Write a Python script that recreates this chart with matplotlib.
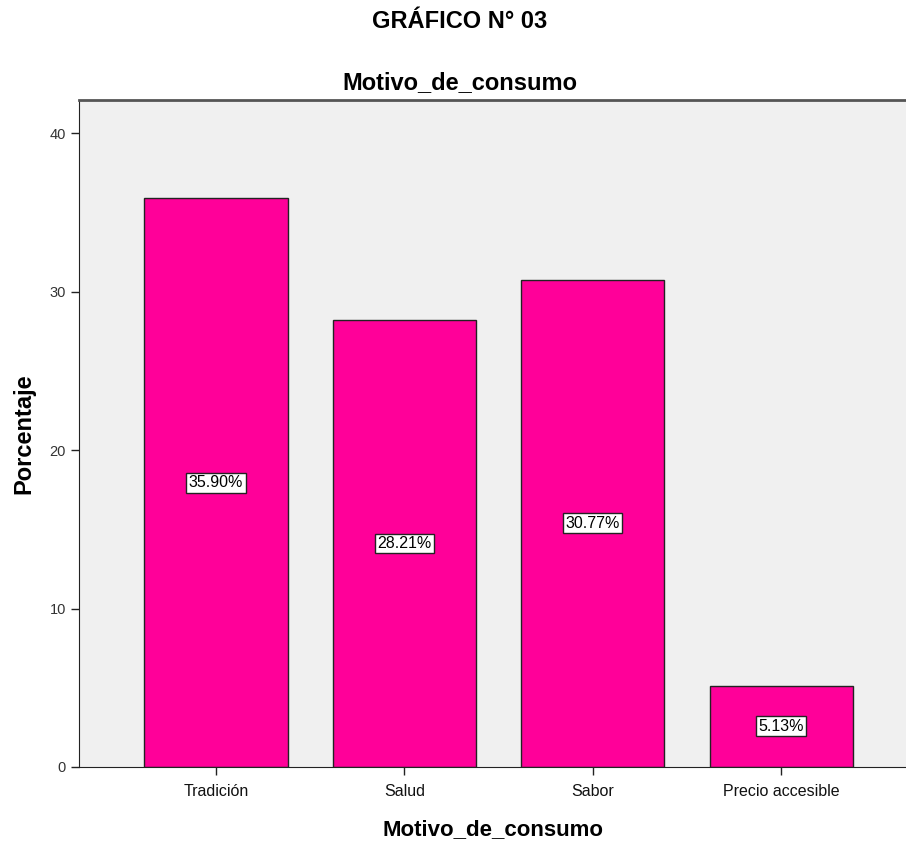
import matplotlib
matplotlib.use('Agg')
from matplotlib import pyplot as plt

categorias = ['Tradición', 'Salud', 'Sabor', 'Precio accesible']
porcentajes = [35.90, 28.21, 30.77, 5.13]
etiquetas = ['35.90%', '28.21%', '30.77%', '5.13%']
yticks = [0, 10, 20, 30, 40]

plt.rcParams['font.family'] = ['Liberation Sans', 'DejaVu Sans']

fig = plt.figure(figsize=(9.06, 8.44), dpi=100)
ax = fig.add_axes([79/906, 77/844, 1 - 79/906, 667/844])
ax.set_facecolor('#f0f0f0')

x = range(len(categorias))
ax.bar(x, porcentajes, width=0.76, color='#ff0099', edgecolor='#222222', linewidth=1)

for i, v in enumerate(porcentajes):
    ax.text(i, v/2, etiquetas[i], ha='center', va='center', fontsize=11.5,
            bbox=dict(boxstyle='square,pad=0.15', facecolor='white', edgecolor='#222222', linewidth=1))

ax.set_xlim(-0.727, 3.663)
ax.set_ylim(0, 42.1)
ax.set_xticks(list(x))
ax.set_xticklabels(categorias, fontsize=11.5)
ax.set_yticks(yticks)
ax.tick_params(axis='y', labelsize=10.5, length=6, width=1, colors='#222222', labelcolor='#333333')
ax.tick_params(axis='x', length=6, width=1, colors='#222222', labelcolor='#111111', pad=6)

ax.spines['right'].set_visible(False)
ax.spines['left'].set_color('#222222')
ax.spines['bottom'].set_color('#222222')
ax.spines['top'].set_color('#555555')
ax.spines['top'].set_linewidth(2)

ax.set_xlabel('Motivo_de_consumo', fontsize=16, fontweight='bold', labelpad=15)
ax.set_ylabel('Porcentaje', fontsize=17, fontweight='bold', labelpad=10)

# titulos centrados un poco a la izquierda, como en el original
fig.text(460/906, 1 - 89/844, 'Motivo_de_consumo', ha='center', va='baseline', fontsize=17, fontweight='bold')
fig.text(460/906, 1 - 22/844, 'GRÁFICO N° 03', ha='center', va='center', fontsize=17, fontweight='bold')

plt.savefig('out.png', dpi=100)
